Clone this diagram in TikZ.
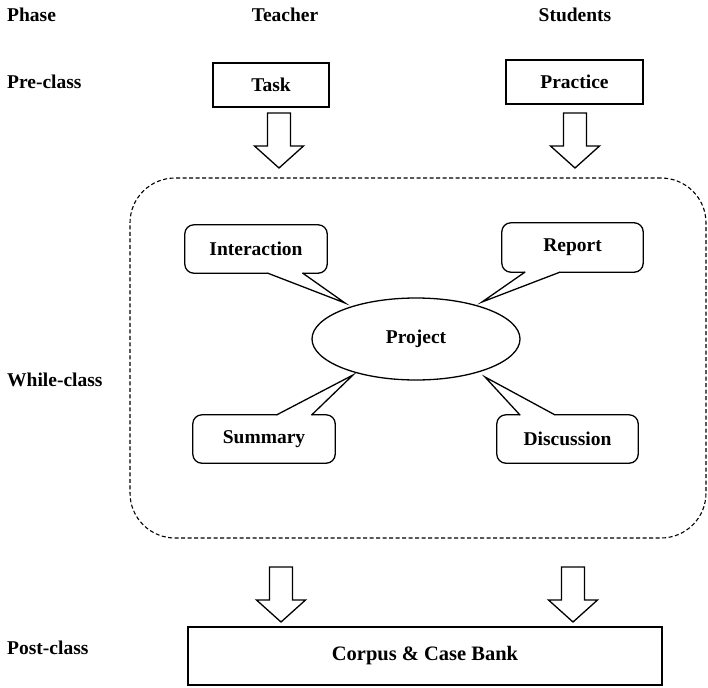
\documentclass[tikz,border=0pt]{standalone}
\usepackage{fontspec}
\setmainfont{Liberation Serif}
\usetikzlibrary{calc,shapes.geometric}
\begin{document}
\begin{tikzpicture}[x=1pt,y=-1pt,
  font=\fontsize{19.5}{22}\selectfont\bfseries,
  txt/.style={inner sep=0pt},
  boxnode/.style={draw, line width=1.3pt, inner sep=0pt},
  cline/.style={line width=1.3pt, line cap=round, line join=miter},
  calloutnode/.style={inner sep=0pt, minimum width=142, minimum height=48},
  dashbox/.style={draw, line width=1.1pt, dash pattern=on 4pt off 2.5pt, rounded corners=45pt, inner sep=0pt},
  blockarrow/.pic={\draw[line width=1.3pt, line join=miter]
     (-11.5,0) -- (11.5,0) -- (11.5,33) -- (24.5,33) -- (0,55) -- (-24.5,33) -- (-11.5,33) -- cycle;}
]
\useasboundingbox (0,0) rectangle (708,687);

% headers
\node[txt, anchor=west] (phase) at (7,15) {Phase};
\node[txt] (teacher) at (285,15) {Teacher};
\node[txt] (students) at (575,15) {Students};
\node[txt, anchor=west] (pre) at (7,82) {Pre-class};
\node[txt, anchor=west] (while) at (7,380) {While-class};
\node[txt, anchor=west] (post) at (7,648) {Post-class};

% pre-class boxes
\node[boxnode, minimum width=116, minimum height=44] (task) at (271,85) {Task};
\node[boxnode, minimum width=137, minimum height=44] (practice) at (574.5,82) {Practice};

% block arrows
\pic (a1) at (279,113) {blockarrow};
\pic (a2) at (575,113) {blockarrow};
\pic (a3) at (281,567) {blockarrow};
\pic (a4) at (573,567) {blockarrow};

% while-class frame
\node[dashbox, minimum width=576, minimum height=360] (wbox) at (418,358) {};

% project
\node[draw, ellipse, line width=1.3pt, inner sep=0pt, minimum width=208, minimum height=82] (proj) at (416,339) {Project};

% callouts
\node[calloutnode] (inter) at (256,249) {Interaction};
\coordinate (interTip) at (345,303);
\draw[cline, rounded corners=9pt] ($(inter.south west)+(118,0)$) -- (inter.south east) -- (inter.north east) -- (inter.north west) -- (inter.south west) -- ($(inter.south west)+(83,0)$);
\draw[cline] ($(inter.south west)+(83,0)$) -- (interTip) -- ($(inter.south west)+(118,0)$);

\node[calloutnode] (summ) at (264,439) {Summary};
\coordinate (summTip) at (353,375);
\draw[cline, rounded corners=9pt] ($(summ.north west)+(119,0)$) -- (summ.north east) -- (summ.south east) -- (summ.south west) -- (summ.north west) -- ($(summ.north west)+(84,0)$);
\draw[cline] ($(summ.north west)+(84,0)$) -- (summTip) -- ($(summ.north west)+(119,0)$);

\node[calloutnode, minimum width=141, minimum height=49] (rep) at (572.5,247.5) {Report};
\coordinate (repTip) at (482,302);
\draw[cline, rounded corners=9pt] ($(rep.south west)+(58,0)$) -- (rep.south east) -- (rep.north east) -- (rep.north west) -- (rep.south west) -- ($(rep.south west)+(23,0)$);
\draw[cline] ($(rep.south west)+(23,0)$) -- (repTip) -- ($(rep.south west)+(58,0)$);

\node[calloutnode, minimum width=141] (disc) at (567.5,439) {Discussion};
\coordinate (discTip) at (485,377);
\draw[cline, rounded corners=9pt] ($(disc.north west)+(58,0)$) -- (disc.north east) -- (disc.south east) -- (disc.south west) -- (disc.north west) -- ($(disc.north west)+(23,0)$);
\draw[cline] ($(disc.north west)+(23,0)$) -- (discTip) -- ($(disc.north west)+(58,0)$);

% post-class
\node[boxnode, minimum width=474, minimum height=58, font=\fontsize{20.5}{24}\selectfont\bfseries] (corpus) at (425,656) {Corpus \& Case Bank};
\end{tikzpicture}
\end{document}
